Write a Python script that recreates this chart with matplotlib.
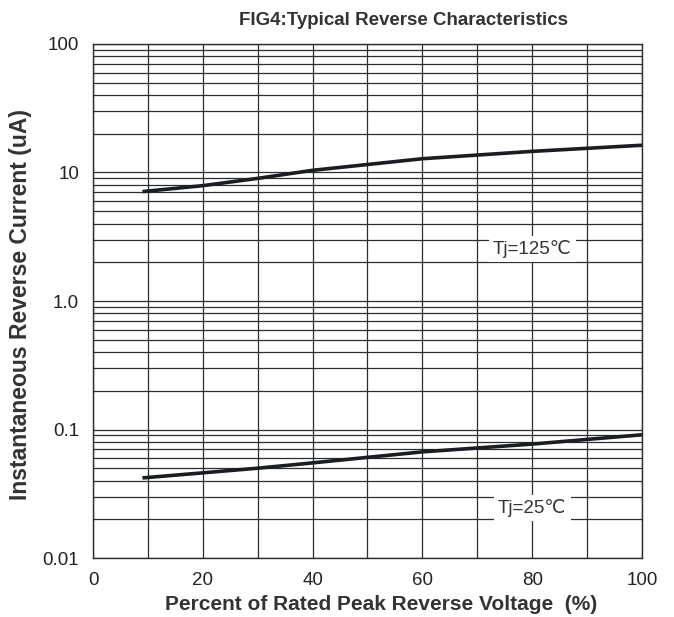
import numpy as np
import matplotlib
matplotlib.use("Agg")
from matplotlib import pyplot as plt
from matplotlib.ticker import LogLocator, FixedLocator, NullFormatter

plt.rcParams['font.family'] = ['Liberation Sans', 'DejaVu Sans']

# curve data
volt_pct = [9, 20, 30, 40, 60, 80, 100]
ir_125 = [7.1, 7.9, 9.0, 10.4, 12.8, 14.6, 16.3]
ir_25 = [0.042, 0.046, 0.050, 0.055, 0.067, 0.077, 0.091]

x_ticks = [0, 20, 40, 60, 80, 100]
y_ticks = [0.01, 0.1, 1, 10, 100]
y_labels = ["0.01", "0.1", "1.0", "10", "100"]

fig = plt.figure(figsize=(6.74, 6.17), dpi=100)
ax = fig.add_axes([0.138, 0.0956, 0.8145, 0.8331])

ax.set_yscale('log')
ax.set_xlim(0, 100)
ax.set_ylim(0.01, 100)

ax.plot(volt_pct, ir_125, color='#1a1d22', lw=2.6, solid_capstyle='butt', zorder=3)
ax.plot(volt_pct, ir_25, color='#1a1d22', lw=2.6, solid_capstyle='butt', zorder=3)

ax.set_xticks(x_ticks)
ax.xaxis.set_minor_locator(FixedLocator(range(0, 101, 10)))
ax.set_yticks(y_ticks)
ax.set_yticklabels(y_labels)
ax.yaxis.set_minor_locator(LogLocator(base=10, subs=np.arange(2, 10)))
ax.yaxis.set_minor_formatter(NullFormatter())

# datasheet grid: every minor decade line plus every 10 %
ax.grid(True, which='both', color='#2a2d33', lw=0.9)
ax.tick_params(which='both', length=0, labelsize=13.5, colors='#222222')
ax.tick_params(axis='x', pad=10)
ax.tick_params(axis='y', pad=10)
for s in ax.spines.values():
    s.set_color('#2a2d33')
    s.set_linewidth(1.0)

ax.text(80, 2.55, "Tj=125\u2103", fontsize=13.5, color='#333333', ha='center', va='center',
        bbox=dict(facecolor='white', edgecolor='none', pad=3), zorder=4)
ax.text(80, 0.0245, "Tj=25\u2103", fontsize=13.5, color='#333333', ha='center', va='center',
        bbox=dict(facecolor='white', edgecolor='none', pad=3), zorder=4)

fig.text(0.598, 0.967, "FIG4:Typical Reverse Characteristics", ha='center', va='center',
         fontsize=13.5, fontweight='bold', color='#333333')
fig.text(0.565, 0.021, "Percent of Rated Peak Reverse Voltage  (%)", ha='center', va='center',
         fontsize=15, fontweight='bold', color='#333333')
fig.text(0.031, 0.507, "Instantaneous Reverse Current (uA)", ha='center', va='center',
         rotation=90, fontsize=16.5, fontweight='bold', color='#333333')

fig.savefig("out.png", dpi=100)
